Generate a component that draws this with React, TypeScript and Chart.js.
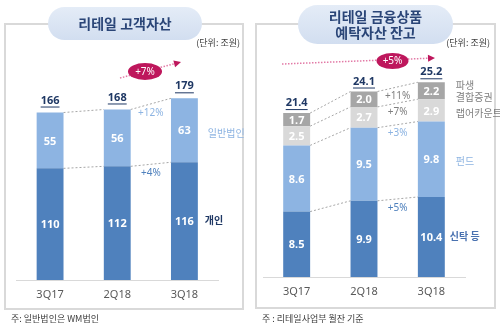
import React, { useEffect, useRef } from 'react';
import { Chart, registerables } from 'chart.js';
Chart.register(...registerables);

const FONT = "'Noto Sans', 'Noto Sans CJK KR', sans-serif";
const KFONT = "'Noto Sans CJK KR', 'Noto Sans', sans-serif";

// ---- Left panel data: 리테일 고객자산 ----
const LEFT_CATEGORIES = ['3Q17', '2Q18', '3Q18'];
const LEFT_PERSONAL = [110, 112, 116];
const LEFT_CORPORATE = [55, 56, 63];
const LEFT_TOTALS = ['166', '168', '179'];
const LEFT_GROWTH = ['+4%', '+12%'];
const LEFT_SERIES = [['개인'], ['일반법인']];
const LEFT_TITLE = ['리테일 고객자산'];
const LEFT_BADGE = '+7%';
const LEFT_NOTE = '주: 일반법인은 WM법인';

// ---- Right panel data: 리테일 금융상품 예탁자산 잔고 ----
const RIGHT_CATEGORIES = ['3Q17', '2Q18', '3Q18'];
const RIGHT_TRUST = [8.5, 9.9, 10.4];
const RIGHT_FUND = [8.6, 9.5, 9.8];
const RIGHT_WRAP = [2.5, 2.7, 2.9];
const RIGHT_DLS = [1.7, 2.0, 2.2];
const RIGHT_TOTALS = ['21.4', '24.1', '25.2'];
const RIGHT_GROWTH = ['+5%', '+3%', '+7%', '+11%'];
const RIGHT_SERIES = [['신탁 등'], ['펀드'], ['랩어카운트'], ['파생', '결합증권']];
const RIGHT_TITLE = ['리테일 금융상품', '예탁자산 잔고'];
const RIGHT_BADGE = '+5%';
const RIGHT_NOTE = '주 : 리테일사업부 월잔 기준';

const UNIT = '(단위: 조원)';

const DARK = '#4f81bd';
const LIGHT = '#8db4e2';
const GREY1 = '#d9d9d9';
const GREY2 = '#a6a6a6';
const NAVY = '#1f3864';
const MAGENTA = '#be175c';

type PanelCfg = {
  title: string[];
  titleY: number[];
  pill: [number, number, number, number];
  border: [number, number, number, number];
  note: string;
  badge: string;
  arrow: [number, number, number, number];
  ellipse: [number, number, number, number];
  decimals: number;
  totals: string[];
  totalGap: number;
  growth: string[];
  growthColors: string[];
  series: string[][];
  seriesColors: string[];
  seriesBold: boolean[];
  seriesDx: number[];
  seriesDy: number[];
};

function makePlugin(cfg: PanelCfg) {
  return {
    id: 'panelDeco',
    beforeDraw(chart: any) {
      const ctx = chart.ctx as CanvasRenderingContext2D;
      ctx.save();
      // panel border
      const [bx, by, bw, bh] = cfg.border;
      ctx.strokeStyle = '#d9d9d9';
      ctx.lineWidth = 2;
      ctx.strokeRect(bx, by, bw, bh);
      // title pill
      const [px, py, pw, ph] = cfg.pill;
      const r = ph / 2;
      const g = ctx.createLinearGradient(0, py, 0, py + ph);
      g.addColorStop(0, '#e4ecf7');
      g.addColorStop(1, '#d2def0');
      ctx.fillStyle = g;
      ctx.beginPath();
      ctx.moveTo(px + r, py);
      ctx.lineTo(px + pw - r, py);
      ctx.arc(px + pw - r, py + r, r, -Math.PI / 2, Math.PI / 2);
      ctx.lineTo(px + r, py + ph);
      ctx.arc(px + r, py + r, r, Math.PI / 2, (3 * Math.PI) / 2);
      ctx.closePath();
      ctx.fill();
      ctx.fillStyle = '#2a4577';
      ctx.font = `bold 14px ${KFONT}`;
      ctx.textAlign = 'center';
      ctx.textBaseline = 'middle';
      cfg.title.forEach((t, i) => ctx.fillText(t, px + pw / 2, cfg.titleY[i]));
      // unit
      ctx.font = `9px ${KFONT}`;
      ctx.fillStyle = '#404040';
      ctx.textAlign = 'right';
      ctx.fillText(UNIT, 240, 43);
      // footnote
      ctx.textAlign = 'left';
      ctx.fillText(cfg.note, bx + 6, 319);
      ctx.restore();
    },
    beforeDatasetsDraw(chart: any) {
      const ctx = chart.ctx as CanvasRenderingContext2D;
      ctx.save();
      ctx.strokeStyle = '#a6a6a6';
      ctx.lineWidth = 1;
      ctx.setLineDash([2, 2]);
      chart.data.datasets.forEach((_: any, di: number) => {
        const els = chart.getDatasetMeta(di).data;
        for (let j = 0; j < els.length - 1; j++) {
          const a = els[j].getProps(['x', 'y', 'width'], true);
          const b = els[j + 1].getProps(['x', 'y', 'width'], true);
          ctx.beginPath();
          ctx.moveTo(a.x + a.width / 2, a.y);
          ctx.lineTo(b.x - b.width / 2, b.y);
          ctx.stroke();
        }
      });
      ctx.restore();
    },
    afterDatasetsDraw(chart: any) {
      const ctx = chart.ctx as CanvasRenderingContext2D;
      ctx.save();
      ctx.textAlign = 'center';
      ctx.textBaseline = 'middle';
      const n = chart.data.datasets.length;
      // segment values
      ctx.font = `bold 11px ${FONT}`;
      ctx.fillStyle = '#ffffff';
      chart.data.datasets.forEach((ds: any, di: number) => {
        chart.getDatasetMeta(di).data.forEach((el: any, j: number) => {
          const p = el.getProps(['x', 'y', 'base'], true);
          ctx.fillText(Number(ds.data[j]).toFixed(cfg.decimals), p.x, (p.y + p.base) / 2 + 1);
        });
      });
      // totals
      const topEls = chart.getDatasetMeta(n - 1).data;
      ctx.font = `bold 11px ${FONT}`;
      ctx.fillStyle = NAVY;
      topEls.forEach((el: any, j: number) => {
        const p = el.getProps(['x', 'y'], true);
        const ty = p.y - cfg.totalGap;
        ctx.fillText(cfg.totals[j], p.x, ty);
        const w = ctx.measureText(cfg.totals[j]).width;
        ctx.fillRect(p.x - w / 2, ty + 6, w, 1);
      });
      // growth labels between bars 2 and 3
      ctx.font = `10px ${FONT}`;
      chart.data.datasets.forEach((_: any, di: number) => {
        const els = chart.getDatasetMeta(di).data;
        const a = els[1].getProps(['x', 'y', 'width'], true);
        const b = els[2].getProps(['x', 'y', 'width'], true);
        ctx.fillStyle = cfg.growthColors[di];
        ctx.fillText(cfg.growth[di], (a.x + b.x) / 2, (a.y + b.y) / 2 + 9);
      });
      // series labels right of last bar
      chart.data.datasets.forEach((_: any, di: number) => {
        const el = chart.getDatasetMeta(di).data[2];
        const p = el.getProps(['x', 'y', 'base', 'width'], true);
        const cy = (p.y + p.base) / 2 + cfg.seriesDy[di];
        const lines = cfg.series[di];
        ctx.textAlign = 'left';
        ctx.fillStyle = cfg.seriesColors[di];
        ctx.font = `${cfg.seriesBold[di] ? 'bold ' : ''}10px ${KFONT}`;
        lines.forEach((t, k) => {
          ctx.fillText(t, p.x + p.width / 2 + cfg.seriesDx[di], cy + (k - (lines.length - 1) / 2) * 12);
        });
      });
      // growth arrow and badge
      const [x1, y1, x2, y2] = cfg.arrow;
      ctx.strokeStyle = '#e27aa6';
      ctx.lineWidth = 1.5;
      ctx.setLineDash([1.5, 1.5]);
      ctx.beginPath();
      ctx.moveTo(x1, y1);
      const ang = Math.atan2(y2 - y1, x2 - x1);
      ctx.lineTo(x2 - 6 * Math.cos(ang), y2 - 6 * Math.sin(ang));
      ctx.stroke();
      ctx.setLineDash([]);
      ctx.fillStyle = MAGENTA;
      ctx.beginPath();
      ctx.moveTo(x2, y2);
      ctx.lineTo(x2 - 7 * Math.cos(ang) + 3.5 * Math.sin(ang), y2 - 7 * Math.sin(ang) - 3.5 * Math.cos(ang));
      ctx.lineTo(x2 - 7 * Math.cos(ang) - 3.5 * Math.sin(ang), y2 - 7 * Math.sin(ang) + 3.5 * Math.cos(ang));
      ctx.closePath();
      ctx.fill();
      const [ex, ey, rx, ry] = cfg.ellipse;
      ctx.beginPath();
      ctx.ellipse(ex, ey, rx, ry, 0, 0, Math.PI * 2);
      ctx.fill();
      ctx.fillStyle = '#ffffff';
      ctx.textAlign = 'center';
      ctx.font = `10px ${FONT}`;
      ctx.fillText(cfg.badge, ex, ey + 0.5);
      ctx.restore();
    },
  };
}

function baseOptions(pad: any, yMax: number) {
  return {
    responsive: false,
    animation: false as const,
    layout: { padding: pad },
    plugins: { legend: { display: false }, tooltip: { enabled: false } },
    scales: {
      x: {
        stacked: true,
        grid: { display: false, drawTicks: false },
        border: { display: true, color: '#d9d9d9', width: 1 },
        ticks: { color: '#595959', font: { size: 11, family: FONT }, padding: 8 },
        afterFit: (s: any) => {
          s.height = 30;
        },
      },
      y: { stacked: true, display: false, min: 0, max: yMax },
    },
  };
}

function ds(data: number[], color: string) {
  return { data, backgroundColor: color, borderWidth: 0, barPercentage: 0.4, categoryPercentage: 1 };
}

const LEFT_CFG: PanelCfg = {
  title: LEFT_TITLE,
  titleY: [24],
  pill: [48, 7, 154, 33],
  border: [5, 24, 238, 285],
  note: LEFT_NOTE,
  badge: LEFT_BADGE,
  arrow: [120, 78, 181, 62],
  ellipse: [145, 71.5, 17, 8.5],
  decimals: 0,
  totals: LEFT_TOTALS,
  totalGap: 12,
  growth: LEFT_GROWTH,
  growthColors: [DARK, LIGHT],
  series: LEFT_SERIES,
  seriesColors: [NAVY, LIGHT],
  seriesBold: [true, false],
  seriesDx: [7, 10],
  seriesDy: [-1, 3],
};

const RIGHT_CFG: PanelCfg = {
  title: RIGHT_TITLE,
  titleY: [17, 33],
  pill: [48, 5, 155, 39],
  border: [6, 24, 239, 284],
  note: RIGHT_NOTE,
  badge: RIGHT_BADGE,
  arrow: [32, 64, 185, 58],
  ellipse: [142.5, 61, 16, 8],
  decimals: 1,
  totals: RIGHT_TOTALS,
  totalGap: 10,
  growth: RIGHT_GROWTH,
  growthColors: [DARK, LIGHT, '#7f7f7f', '#7f7f7f'],
  series: RIGHT_SERIES,
  seriesColors: ['#4a72b0', LIGHT, '#7f7f7f', '#7f7f7f'],
  seriesBold: [true, false, false, false],
  seriesDx: [5, 11, 11, 11],
  seriesDy: [-1, 2, 3, 0],
};

export default function App() {
  const leftRef = useRef<HTMLCanvasElement>(null);
  const rightRef = useRef<HTMLCanvasElement>(null);

  useEffect(() => {
    document.body.style.margin = '0';
    const left = new Chart(leftRef.current!, {
      type: 'bar',
      data: {
        labels: LEFT_CATEGORIES,
        datasets: [ds(LEFT_PERSONAL, DARK), ds(LEFT_CORPORATE, LIGHT)],
      },
      options: baseOptions({ left: 16.5, right: 32, top: 77, bottom: 16 }, 200) as any,
      plugins: [makePlugin(LEFT_CFG)],
    });
    const right = new Chart(rightRef.current!, {
      type: 'bar',
      data: {
        labels: RIGHT_CATEGORIES,
        datasets: [
          ds(RIGHT_TRUST, DARK),
          ds(RIGHT_FUND, LIGHT),
          ds(RIGHT_WRAP, GREY1),
          ds(RIGHT_DLS, GREY2),
        ],
      },
      options: baseOptions({ left: 13, right: 35, top: 61.5, bottom: 19 }, 28) as any,
      plugins: [makePlugin(RIGHT_CFG)],
    });
    return () => {
      left.destroy();
      right.destroy();
    };
  }, []);

  return (
    <div style={{ position: 'relative', width: 500, height: 326, background: '#fff' }}>
      <canvas ref={leftRef} width={250} height={326} style={{ position: 'absolute', left: 0, top: 0, width: 250, height: 326 }} />
      <canvas ref={rightRef} width={250} height={326} style={{ position: 'absolute', left: 250, top: 0, width: 250, height: 326 }} />
    </div>
  );
}
